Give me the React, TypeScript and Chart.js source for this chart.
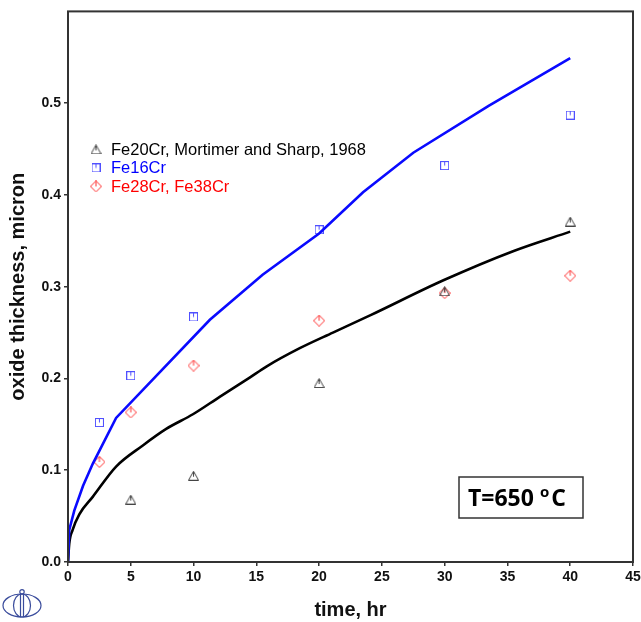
import React, { useEffect, useRef } from "react";
import { Chart, registerables } from "chart.js";

Chart.register(...registerables);

// ---- data ----
const xTickValues = [0, 5, 10, 15, 20, 25, 30, 35, 40, 45];
const yTickValues = [0, 0.1, 0.2, 0.3, 0.4, 0.5];

const fe20X = [5, 10, 20, 30, 40];
const fe20Y = [0.068, 0.094, 0.195, 0.295, 0.371];

const fe16X = [2.5, 5, 10, 20, 30, 40];
const fe16Y = [0.152, 0.203, 0.267, 0.362, 0.432, 0.487];

const fe28X = [2.5, 5, 10, 20, 30, 40];
const fe28Y = [0.109, 0.163, 0.214, 0.263, 0.293, 0.312];

const blueCurveX = [0, 0.1, 0.5, 1.2, 1.97, 3.83, 11.3, 15.5, 20, 23.5, 27.5, 33.5, 40];
const blueCurveY = [0, 0.035, 0.056, 0.083, 0.107, 0.157, 0.264, 0.313, 0.358, 0.403, 0.446, 0.497, 0.549];

const blackCurveX = [0, 0.1, 0.37, 0.9, 1.97, 3.83, 5.96, 7.82, 9.95, 12.08, 14.47, 15.8, 18.46, 21.1, 24.1, 29.9, 35.5, 40];
const blackCurveY = [0, 0.02, 0.035, 0.052, 0.071, 0.104, 0.127, 0.145, 0.161, 0.18, 0.201, 0.213, 0.233, 0.25, 0.269, 0.307, 0.339, 0.36];

const legendLabels = ["Fe20Cr, Mortimer and Sharp, 1968", "Fe16Cr", "Fe28Cr, Fe38Cr"];
const legendColors = ["#000000", "#0000ff", "#ff0000"];
const xTitle = "time, hr";
const yTitle = "oxide thickness, micron";
const noteMain = "T=650 ";
const noteSup = "o";
const noteUnit = "C";

const FONT = "'Liberation Sans', Arial, sans-serif";

const pts = (xs: number[], ys: number[]) => xs.map((x, i) => ({ x, y: ys[i] }));

function makeMarker(kind: "tri" | "sq" | "dia", color: string): HTMLCanvasElement {
  const c = document.createElement("canvas");
  const g = c.getContext("2d")!;
  if (kind === "tri") {
    c.width = 11; c.height = 10;
    g.strokeStyle = color; g.lineWidth = 1;
    g.beginPath();
    g.moveTo(5.5, 0.5); g.lineTo(10.5, 9.5); g.lineTo(0.5, 9.5); g.closePath();
    g.stroke();
    g.beginPath(); g.moveTo(5.5, 1); g.lineTo(5.5, 6); g.stroke();
  } else if (kind === "sq") {
    c.width = 9; c.height = 9;
    g.strokeStyle = color; g.lineWidth = 1;
    g.strokeRect(0.5, 0.5, 8, 8);
    g.beginPath(); g.moveTo(4.5, 0.5); g.lineTo(4.5, 4.5); g.stroke();
  } else {
    c.width = 12; c.height = 12;
    g.strokeStyle = color; g.lineWidth = 1;
    g.beginPath();
    g.moveTo(6, 0.5); g.lineTo(11.5, 6); g.lineTo(6, 11.5); g.lineTo(0.5, 6); g.closePath();
    g.stroke();
    g.beginPath(); g.moveTo(6, 0.5); g.lineTo(6, 6); g.stroke();
  }
  return c;
}

export default function App() {
  const ref = useRef<HTMLCanvasElement | null>(null);

  useEffect(() => {
    document.body.style.margin = "0";
    const canvas = ref.current;
    if (!canvas) return;

    const triM = makeMarker("tri", "#444444");
    const sqM = makeMarker("sq", "#5050ff");
    const diaM = makeMarker("dia", "#ff3030");
    const markers = [triM, sqM, diaM];

    const decor = {
      id: "decor",
      afterDraw(chart: any) {
        const { ctx, chartArea } = chart;
        const { left, top, right, bottom } = chartArea;
        ctx.save();
        // frame
        ctx.strokeStyle = "#333333";
        ctx.lineWidth = 2;
        ctx.strokeRect(left, top, right - left, bottom - top);

        // legend
        ctx.font = `16.5px ${FONT}`;
        ctx.textBaseline = "middle";
        ctx.textAlign = "left";
        legendLabels.forEach((lab, i) => {
          const y = top + 138 + i * 18.5;
          const m = markers[i];
          ctx.drawImage(m, left + 28 - m.width / 2, y - m.height / 2);
          ctx.fillStyle = legendColors[i];
          ctx.fillText(lab, left + 43, y + 1);
        });

        // temperature box
        const bx = right - 174;
        const by = bottom - 85;
        ctx.strokeStyle = "#333333";
        ctx.lineWidth = 1.5;
        ctx.strokeRect(bx, by, 124, 41);
        ctx.fillStyle = "#000000";
        ctx.textBaseline = "alphabetic";
        ctx.font = `bold 23px 'Open Sans', ${FONT}`;
        const tx = bx + 9;
        const ty = by + 29;
        ctx.fillText(noteMain, tx, ty);
        const w1 = ctx.measureText(noteMain).width;
        ctx.font = `bold 15px 'Open Sans', ${FONT}`;
        ctx.fillText(noteSup, tx + w1, ty - 9);
        const w2 = ctx.measureText(noteSup).width;
        ctx.font = `bold 23px 'Open Sans', ${FONT}`;
        ctx.fillText(noteUnit, tx + w1 + w2 + 2, ty);
        ctx.restore();
      },
    };

    const chart = new Chart(canvas, {
      type: "scatter",
      data: {
        datasets: [
          {
            label: "blue curve",
            data: pts(blueCurveX, blueCurveY),
            showLine: true,
            borderColor: "#0a0aff",
            borderWidth: 2.6,
            pointRadius: 0,
            tension: 0,
          },
          {
            label: "black curve",
            data: pts(blackCurveX, blackCurveY),
            showLine: true,
            borderColor: "#000000",
            borderWidth: 2.6,
            pointRadius: 0,
            cubicInterpolationMode: "monotone",
          },
          {
            label: legendLabels[0],
            data: pts(fe20X, fe20Y),
            pointStyle: triM,
            showLine: false,
          },
          {
            label: legendLabels[1],
            data: pts(fe16X, fe16Y),
            pointStyle: sqM,
            showLine: false,
          },
          {
            label: legendLabels[2],
            data: pts(fe28X, fe28Y),
            pointStyle: diaM,
            showLine: false,
          },
        ] as any,
      },
      options: {
        responsive: false,
        animation: false,
        events: [],
        layout: { padding: { left: 0, top: 10, right: 0, bottom: 0 } },
        plugins: {
          legend: { display: false },
          tooltip: { enabled: false },
        },
        scales: {
          x: {
            type: "linear",
            min: 0,
            max: 45,
            afterBuildTicks: (s: any) => {
              s.ticks = xTickValues.map((v) => ({ value: v }));
            },
            afterFit: (s: any) => {
              s.height = 60;
              s.paddingRight = 8;
              s.paddingLeft = 0;
            },
            border: { display: false },
            grid: {
              drawOnChartArea: false,
              drawTicks: true,
              tickLength: 4,
              color: "#333333",
              lineWidth: 1.5,
            },
            ticks: {
              padding: 3,
              color: "#111111",
              font: { family: FONT, size: 14, weight: "bold" },
              maxRotation: 0,
              callback: (v: any) => String(v),
            },
            title: {
              display: true,
              text: xTitle,
              color: "#111111",
              font: { family: FONT, size: 20, weight: "bold" },
              padding: { top: 0, bottom: 0 },
            },
          },
          y: {
            type: "linear",
            min: 0,
            max: 0.6,
            afterBuildTicks: (s: any) => {
              s.ticks = yTickValues.map((v) => ({ value: v }));
            },
            afterFit: (s: any) => {
              s.width = 68;
            },
            border: { display: false },
            grid: {
              drawOnChartArea: false,
              drawTicks: true,
              tickLength: 4,
              color: "#333333",
              lineWidth: 1.5,
            },
            ticks: {
              padding: 3,
              color: "#111111",
              font: { family: FONT, size: 14, weight: "bold" },
              callback: (v: any) => Number(v).toFixed(1),
            },
            title: {
              display: true,
              text: yTitle,
              color: "#111111",
              font: { family: FONT, size: 20, weight: "bold" },
              padding: { top: 6, bottom: 0 },
            },
          },
        },
      } as any,
      plugins: [decor],
    });

    return () => chart.destroy();
  }, []);

  return (
    <div style={{ position: "relative", width: 641, height: 622, background: "#ffffff" }}>
      <canvas ref={ref} width={641} height={622} style={{ display: "block" }} />
      <svg
        width={46}
        height={34}
        viewBox="0 0 46 34"
        style={{ position: "absolute", left: 0, top: 588 }}
      >
        <g fill="none" stroke="#3a4c9c" strokeWidth={1.2}>
          <ellipse cx={22} cy={17.5} rx={19} ry={11.5} />
          <ellipse cx={22} cy={17.5} rx={8.5} ry={11.5} />
          <line x1={20.5} y1={6} x2={20.5} y2={29} />
          <line x1={23.5} y1={6} x2={23.5} y2={29} />
          <circle cx={22} cy={3.8} r={2.2} />
        </g>
      </svg>
    </div>
  );
}
